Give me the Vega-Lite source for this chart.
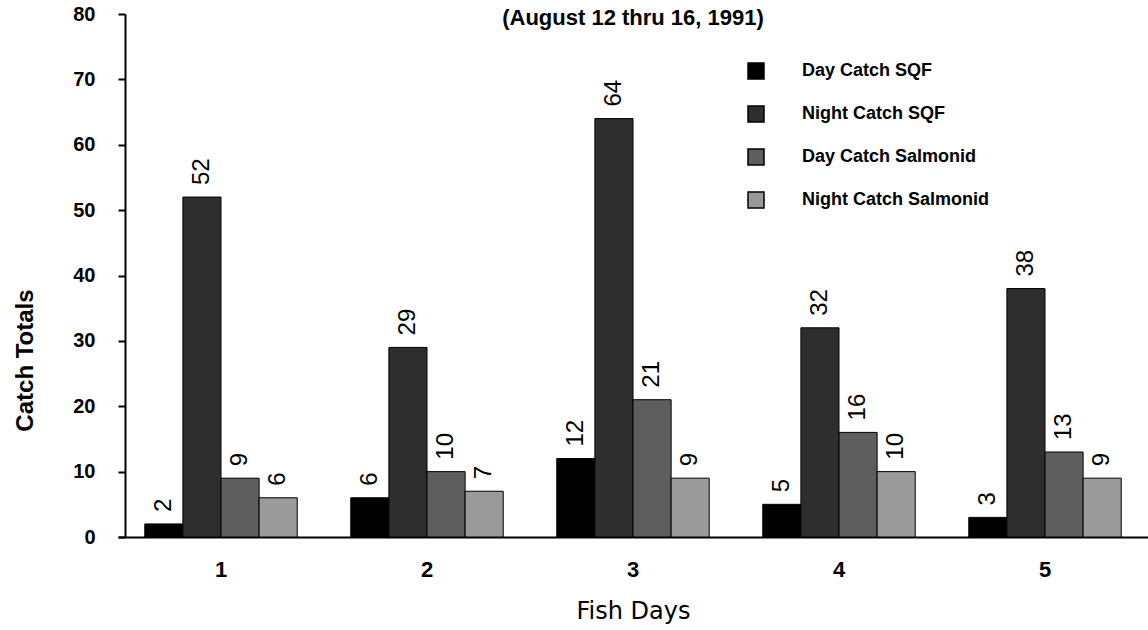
{
  "$schema": "https://vega.github.io/schema/vega-lite/v6.json",
  "width": 1030,
  "height": 523,
  "autosize": {"type": "none"},
  "padding": {"left": 118, "top": 14, "right": 0, "bottom": 93},
  "background": "white",
  "title": {
    "text": "(August 12 thru 16, 1991)",
    "fontSize": 22,
    "font": "Liberation Sans",
    "fontWeight": "bold",
    "anchor": "middle",
    "baseline": "alphabetic",
    "offset": -43,
    "color": "black"
  },
  "data": {
    "values": [
      {"day": "1", "series": "Day Catch SQF", "value": 2},
      {"day": "1", "series": "Night Catch SQF", "value": 52},
      {"day": "1", "series": "Day Catch Salmonid", "value": 9},
      {"day": "1", "series": "Night Catch Salmonid", "value": 6},
      {"day": "2", "series": "Day Catch SQF", "value": 6},
      {"day": "2", "series": "Night Catch SQF", "value": 29},
      {"day": "2", "series": "Day Catch Salmonid", "value": 10},
      {"day": "2", "series": "Night Catch Salmonid", "value": 7},
      {"day": "3", "series": "Day Catch SQF", "value": 12},
      {"day": "3", "series": "Night Catch SQF", "value": 64},
      {"day": "3", "series": "Day Catch Salmonid", "value": 21},
      {"day": "3", "series": "Night Catch Salmonid", "value": 9},
      {"day": "4", "series": "Day Catch SQF", "value": 5},
      {"day": "4", "series": "Night Catch SQF", "value": 32},
      {"day": "4", "series": "Day Catch Salmonid", "value": 16},
      {"day": "4", "series": "Night Catch Salmonid", "value": 10},
      {"day": "5", "series": "Day Catch SQF", "value": 3},
      {"day": "5", "series": "Night Catch SQF", "value": 38},
      {"day": "5", "series": "Day Catch Salmonid", "value": 13},
      {"day": "5", "series": "Night Catch Salmonid", "value": 9}
    ]
  },
  "encoding": {
    "x": {
      "field": "day",
      "type": "ordinal",
      "title": "Fish Days",
      "scale": {"paddingInner": 0.26, "paddingOuter": 0.13},
      "axis": {
        "labelAngle": 0,
        "labelFont": "Liberation Sans",
        "labelFontWeight": "bold",
        "labelFontSize": 22,
        "labelPadding": 22,
        "ticks": false,
        "domainWidth": 2,
        "titleFont": "DejaVu Sans",
        "titleFontWeight": "normal",
        "titleFontSize": 24,
        "titleBaseline": "alphabetic",
        "titleY": 81
      }
    },
    "xOffset": {
      "field": "series",
      "type": "nominal",
      "sort": ["Day Catch SQF", "Night Catch SQF", "Day Catch Salmonid", "Night Catch Salmonid"],
      "scale": {"paddingInner": 0, "paddingOuter": 0}
    },
    "y": {
      "field": "value",
      "type": "quantitative",
      "title": "Catch Totals",
      "scale": {"domain": [0, 80], "nice": false},
      "axis": {
        "values": [0, 10, 20, 30, 40, 50, 60, 70, 80],
        "offset": -7,
        "labelFont": "Liberation Sans",
        "labelFontWeight": "bold",
        "labelFontSize": 20,
        "labelPadding": 23,
        "tickSize": 7,
        "tickWidth": 2,
        "domainWidth": 2,
        "titleFont": "Liberation Sans",
        "titleFontWeight": "bold",
        "titleFontSize": 24,
        "titleBaseline": "alphabetic",
        "titleX": -93,
        "titleY": 346
      }
    }
  },
  "layer": [
    {
      "mark": {"type": "bar", "stroke": "black", "strokeWidth": 1},
      "encoding": {
        "color": {
          "field": "series",
          "type": "nominal",
          "sort": ["Day Catch SQF", "Night Catch SQF", "Day Catch Salmonid", "Night Catch Salmonid"],
          "scale": {
            "domain": ["Day Catch SQF", "Night Catch SQF", "Day Catch Salmonid", "Night Catch Salmonid"],
            "range": ["#000000", "#2e2e2e", "#5e5e5e", "#9a9a9a"]
          },
          "legend": {
            "title": null,
            "orient": "none",
            "legendX": 629,
            "legendY": 48,
            "padding": 0,
            "symbolType": "square",
            "symbolSize": 256,
            "symbolStrokeColor": "black",
            "symbolStrokeWidth": 1.5,
            "labelFont": "Liberation Sans",
            "labelFontWeight": "bold",
            "labelFontSize": 18,
            "labelColor": "black",
            "labelLimit": 400,
            "labelOffset": 37,
            "rowPadding": 21
          }
        }
      }
    },
    {
      "mark": {
        "type": "text",
        "angle": 270,
        "align": "left",
        "baseline": "middle",
        "dx": 12,
        "fontSize": 24,
        "font": "Liberation Sans",
        "color": "black"
      },
      "encoding": {
        "text": {"field": "value", "type": "quantitative"}
      }
    }
  ],
  "config": {
    "view": {"stroke": null},
    "axis": {
      "grid": false,
      "domainColor": "black",
      "tickColor": "black",
      "labelColor": "black",
      "titleColor": "black"
    }
  }
}
